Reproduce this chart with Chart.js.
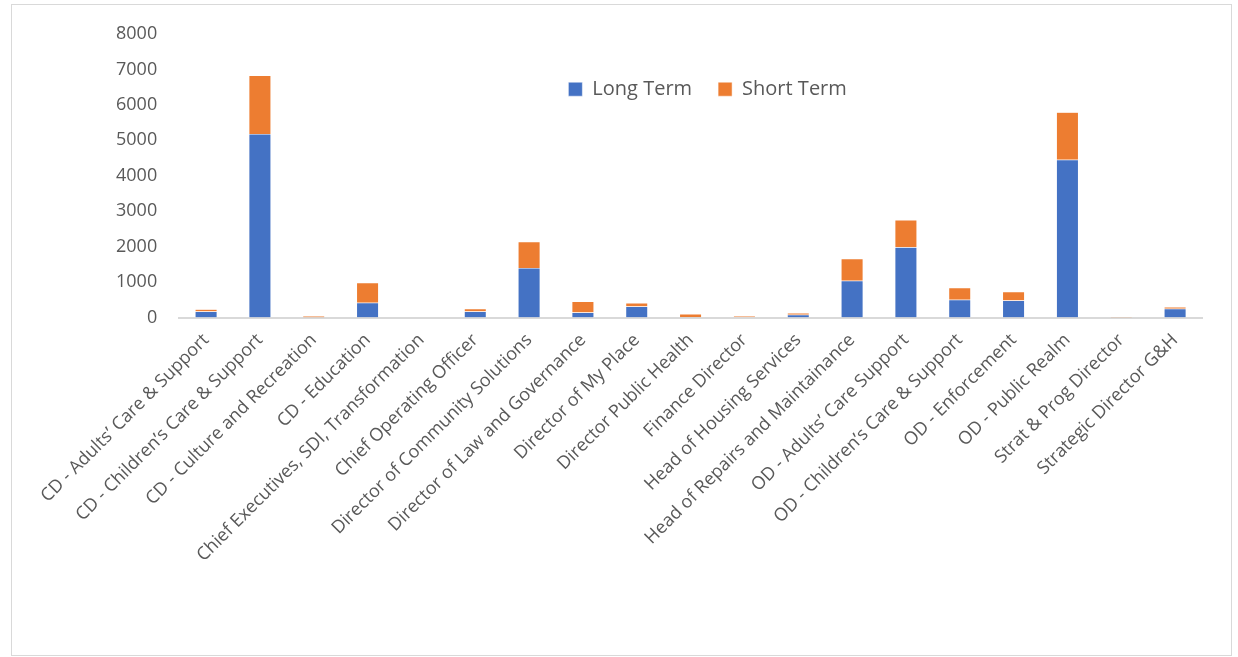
<!DOCTYPE html>
<html lang="en">
<head>
    <meta charset="UTF-8">
    <title>Long Term / Short Term</title>
    <script src="https://cdn.jsdelivr.net/npm/chart.js"></script>
    <style>
        html, body { margin: 0; padding: 0; background: #fff; }
        .container {
            position: absolute;
            left: 11px;
            top: 4px;
            width: 1219px;
            height: 650px;
            border: 1px solid #d9d9d9;
        }
    </style>
</head>
<body>
    <div class="container">
        <canvas id="grafico"></canvas>
    </div>

<script>
    const categorias = [
        'CD - Adults’ Care & Support',
        'CD - Children’s Care & Support',
        'CD - Culture and Recreation',
        'CD - Education',
        'Chief Executives, SDI, Transformation',
        'Chief Operating Officer',
        'Director of Community Solutions',
        'Director of Law and Governance',
        'Director of My Place',
        'Director Public Health',
        'Finance Director',
        'Head of Housing Services',
        'Head of Repairs and Maintainance',
        'OD - Adults’ Care Support',
        'OD - Children’s Care & Support',
        'OD - Enforcement',
        'OD - Public Realm',
        'Strat & Prog Director',
        'Strategic Director G&H'
    ];
    const longTerm = [170, 5180, 0, 420, 0, 170, 1400, 140, 310, 10, 5, 80, 1040, 1980, 500, 480, 4450, 0, 250];
    const shortTerm = [60, 1650, 40, 560, 0, 75, 740, 310, 100, 90, 40, 50, 620, 770, 340, 250, 1340, 30, 50];
    const yMax = 8000;
    const yStep = 1000;

    const cinza = '#595959';
    const fonte = 'Open Sans';

    // legenda dentro da area do grafico, mas em linha (horizontal)
    const legendaEmLinha = {
        id: 'legendaEmLinha',
        afterInit(chart) {
            if (chart.legend) {
                chart.legend.isHorizontal = () => true;
            }
        },
        afterLayout(chart) {
            var area = chart.chartArea;
            if (chart.legend) {
                chart.legend.left = area.left + 34;
                chart.legend.right = area.right;
            }
        }
    };

    var grafico = document.getElementById('grafico');
    var barChart = new Chart(grafico, {
        type: 'bar',
        data: {
            labels: categorias,
            datasets: [{
                label: 'Long Term',
                data: longTerm,
                backgroundColor: '#4472C4',
                borderColor: '#ffffff',
                borderWidth: 0.5,
                barPercentage: 0.41,
                categoryPercentage: 1
            }, {
                label: 'Short Term',
                data: shortTerm,
                backgroundColor: '#ED7D31',
                borderColor: '#ffffff',
                borderWidth: 0.5,
                barPercentage: 0.41,
                categoryPercentage: 1
            }]
        },
        plugins: [legendaEmLinha],
        options: {
            responsive: true,
            maintainAspectRatio: false,
            animation: false,
            layout: {
                padding: { left: 90, right: 29, top: 29, bottom: 85 }
            },
            plugins: {
                legend: {
                    position: 'chartArea',
                    align: 'center',
                    title: {
                        display: true,
                        text: ' ',
                        padding: 0,
                        font: { family: fonte, size: 16 }
                    },
                    labels: {
                        boxWidth: 14,
                        boxHeight: 14,
                        padding: 26,
                        color: cinza,
                        font: { family: fonte, size: 20 }
                    }
                },
                tooltip: { enabled: false }
            },
            scales: {
                x: {
                    stacked: true,
                    grid: { display: false },
                    border: { display: true, color: '#d9d9d9', width: 2 },
                    ticks: {
                        autoSkip: false,
                        maxRotation: 45,
                        minRotation: 45,
                        color: cinza,
                        padding: 4,
                        font: { family: fonte, size: 18 }
                    }
                },
                y: {
                    stacked: true,
                    min: 0,
                    max: yMax,
                    grid: { display: false },
                    border: { display: false },
                    ticks: {
                        stepSize: yStep,
                        color: cinza,
                        padding: 14,
                        font: { family: fonte, size: 18 },
                        callback: (valor) => String(valor)
                    }
                }
            }
        }
    });
</script>
</body>
</html>
